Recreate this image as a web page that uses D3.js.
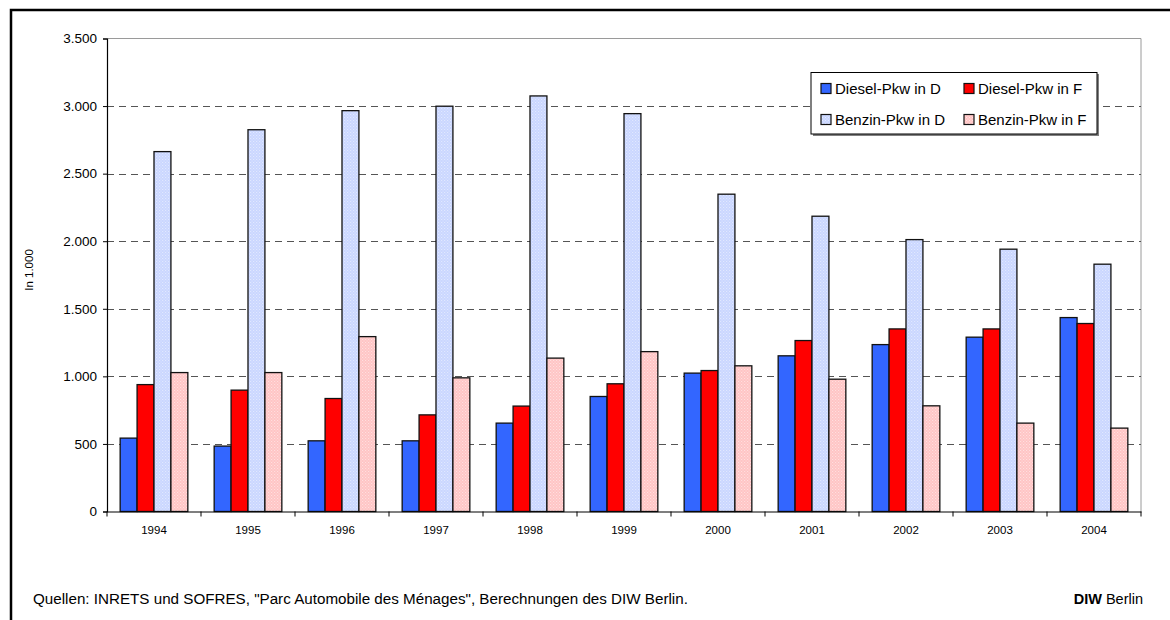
<!DOCTYPE html>
<html><head><meta charset="utf-8">
<script src="https://cdn.jsdelivr.net/npm/d3@7"></script>
<style>
html,body{margin:0;padding:0;background:#fff;}
svg text{font-family:"Liberation Sans",Arial,sans-serif;fill:#000;}
</style></head>
<body><svg id="chart" width="1170" height="620"></svg>
<script>
const years = ["1994","1995","1996","1997","1998","1999","2000","2001","2002","2003","2004"];
const seriesNames = ["Diesel-Pkw in D","Diesel-Pkw in F","Benzin-Pkw in D","Benzin-Pkw in F"];
const dieselD = [543, 484, 523, 523, 654, 851, 1024, 1152, 1235, 1290, 1435];
const dieselF = [939, 898, 836, 715, 780, 945, 1043, 1265, 1351, 1351, 1391];
const benzinD = [2663, 2825, 2966, 2999, 3075, 2944, 2348, 2185, 2012, 1941, 1830];
const benzinF = [1028, 1028, 1294, 989, 1135, 1183, 1078, 979, 782, 654, 617];
const yTicks = [0, 500, 1000, 1500, 2000, 2500, 3000, 3500];
const yTickLabels = ["0","500","1.000","1.500","2.000","2.500","3.000","3.500"];
const yTitle = "In 1.000";
const sourceText = "Quellen: INRETS und SOFRES, \"Parc Automobile des Ménages\", Berechnungen des DIW Berlin.";

const seriesValues = [dieselD, dieselF, benzinD, benzinF];
const fills = ["#3366FF", "#FF0000", "url(#patBlue)", "url(#patPink)"];

const svg = d3.select("#chart");
const defs = svg.append("defs");
function pattern(id, base, dot){
  const p = defs.append("pattern").attr("id", id).attr("width", 3).attr("height", 3)
    .attr("patternUnits", "userSpaceOnUse");
  p.append("rect").attr("width", 3).attr("height", 3).attr("fill", base);
  p.append("rect").attr("x", 0).attr("y", 0).attr("width", 1).attr("height", 1).attr("fill", dot);
  p.append("rect").attr("x", 1.5).attr("y", 1.5).attr("width", 1).attr("height", 1).attr("fill", dot);
}
pattern("patBlue", "#C9D6FF", "#E6ECFF");
pattern("patPink", "#FFC4C4", "#FFE4E4");

// outer frame
svg.append("rect").attr("x", 11).attr("y", 10).attr("width", 1300).attr("height", 800)
  .attr("fill", "none").attr("stroke", "#000").attr("stroke-width", 2.5);

const L = 107, R = 1141, T = 38.5, B = 511.5;
const x = d3.scaleBand().domain(years).range([L, R]).paddingInner(0).paddingOuter(0);
const groupW = x.bandwidth() * 0.72;
const xs = d3.scaleBand().domain(d3.range(4)).range([0, groupW]);
const y = d3.scaleLinear().domain([0, 3500]).range([B, T]);

// plot frame (grey top/right)
svg.append("path").attr("d", `M${L},${T}H${R}V${B}`).attr("fill", "none")
  .attr("stroke", "#9a9a9a").attr("stroke-width", 1);

// gridlines
svg.append("g").selectAll("line").data(yTicks.filter(d => d > 0 && d < 3500)).join("line")
  .attr("x1", L).attr("x2", R).attr("y1", d => Math.round(y(d)) + 0.5).attr("y2", d => Math.round(y(d)) + 0.5)
  .attr("stroke", "#555").attr("stroke-width", 1).attr("stroke-dasharray", "7,5");

// bars
const groups = svg.append("g").selectAll("g").data(years).join("g")
  .attr("transform", d => `translate(${x(d) + (x.bandwidth() - groupW) / 2},0)`);
groups.selectAll("rect").data((d, i) => seriesValues.map((s, k) => ({k, v: s[i]}))).join("rect")
  .attr("x", d => xs(d.k)).attr("width", xs.bandwidth())
  .attr("y", d => y(d.v)).attr("height", d => B - y(d.v))
  .attr("fill", d => fills[d.k]).attr("stroke", "#111").attr("stroke-width", 1.3);

// y axis
const yAxis = d3.axisLeft(y).tickValues(yTicks).tickFormat((d, i) => yTickLabels[i]).tickSize(4).tickPadding(6);
const ya = svg.append("g").attr("transform", `translate(${L},0)`).call(yAxis);
ya.select(".domain").attr("stroke", "#000").attr("stroke-width", 1.2);
ya.selectAll(".tick line").attr("stroke", "#000");
ya.selectAll("text").attr("font-size", 13.5).attr("font-family", "Liberation Sans, Arial, sans-serif").attr("fill", "#000");

// x axis
const xa = svg.append("g").attr("transform", `translate(0,${B})`).call(d3.axisBottom(x).tickSize(0).tickPadding(14));
xa.select(".domain").attr("stroke", "#000").attr("stroke-width", 1.2);
xa.selectAll("text").attr("font-size", 11.5).attr("font-family", "Liberation Sans, Arial, sans-serif").attr("fill", "#000");
// category separator ticks
svg.append("g").selectAll("line").data(years.concat(["end"])).join("line")
  .attr("x1", (d, i) => L + i * x.bandwidth()).attr("x2", (d, i) => L + i * x.bandwidth())
  .attr("y1", B).attr("y2", B + 5).attr("stroke", "#000").attr("stroke-width", 1);

// y title
svg.append("text").attr("transform", "translate(33,270) rotate(-90)").attr("text-anchor", "middle")
  .attr("font-size", 11.5).text(yTitle);

// legend
const lg = svg.append("g");
lg.append("rect").attr("x", 813).attr("y", 74).attr("width", 286).attr("height", 62).attr("fill", "#808080");
lg.append("rect").attr("x", 811).attr("y", 72.5).attr("width", 286).attr("height", 61.5)
  .attr("fill", "#fff").attr("stroke", "#000").attr("stroke-width", 1);
const lx = [821, 964], ly = [88.5, 119.5];
seriesNames.forEach((n, i) => {
  const cx = lx[i % 2], cy = ly[Math.floor(i / 2)];
  lg.append("rect").attr("x", cx).attr("y", cy - 5).attr("width", 10).attr("height", 10)
    .attr("fill", fills[i]).attr("stroke", "#111").attr("stroke-width", 1.2);
  lg.append("text").attr("x", cx + 14).attr("y", cy + 5.3).attr("font-size", 15).text(n);
});

// footer
svg.append("text").attr("x", 33).attr("y", 604).attr("font-size", 15.2).text(sourceText);
const diw = svg.append("text").attr("x", 1143).attr("y", 604).attr("text-anchor", "end").attr("font-size", 14.5);
diw.append("tspan").attr("font-weight", "bold").text("DIW");
diw.append("tspan").text(" Berlin");
</script></body></html>
